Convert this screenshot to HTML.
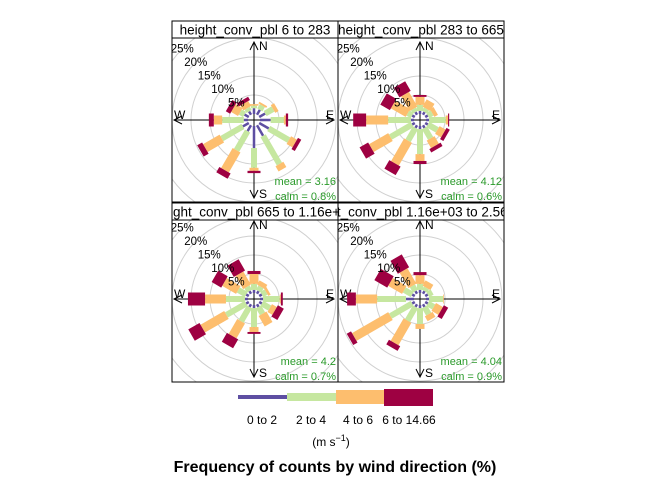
<!DOCTYPE html>
<html><head><meta charset="utf-8"><style>
body{margin:0;background:#fff}
svg{display:block;font-family:"Liberation Sans",sans-serif}
</style></head><body>
<svg id="chart" width="672" height="480" viewBox="0 0 672 480" xmlns="http://www.w3.org/2000/svg">
<defs>
<clipPath id="cp0"><rect x="172" y="38" width="166" height="164"/></clipPath>
<clipPath id="cp1"><rect x="338" y="38" width="166" height="164"/></clipPath>
<clipPath id="cp2"><rect x="172" y="220" width="166" height="162"/></clipPath>
<clipPath id="cp3"><rect x="338" y="220" width="166" height="162"/></clipPath>
<clipPath id="sp0"><rect x="172" y="21" width="166" height="17"/></clipPath>
<clipPath id="sp1"><rect x="338" y="21" width="166" height="17"/></clipPath>
<clipPath id="sp2"><rect x="172" y="203" width="166" height="17"/></clipPath>
<clipPath id="sp3"><rect x="338" y="203" width="166" height="17"/></clipPath>
</defs>
<g id="panels"></g>
<g id="legend">
<rect x="238" y="395" width="49" height="4" fill="#5E4FA2"/>
<rect x="287" y="393" width="49" height="8" fill="#C6E7A0"/>
<rect x="336" y="390" width="48" height="14" fill="#FDBE6E"/>
<rect x="384" y="389" width="49" height="17" fill="#9E0142"/>
<text x="262" y="424" font-size="12" text-anchor="middle">0 to 2</text>
<text x="311" y="424" font-size="12" text-anchor="middle">2 to 4</text>
<text x="358" y="424" font-size="12" text-anchor="middle">4 to 6</text>
<text x="409" y="424" font-size="12" text-anchor="middle">6 to 14.66</text>
<text x="331" y="446" font-size="12" text-anchor="middle">(m s<tspan dy="-5" font-size="9">−1</tspan><tspan dy="5">)</tspan></text>
</g>
<text x="335" y="472" font-size="16" font-weight="bold" text-anchor="middle">Frequency of counts by wind direction (%)</text>
</svg>
<script>
const directions = [0,30,60,90,120,150,180,210,240,270,300,330];
const panelTitles = ["height_conv_pbl 6 to 283","height_conv_pbl 283 to 665","height_conv_pbl 665 to 1.16e+03","height_conv_pbl 1.16e+03 to 2.56e+03"];
const panelMeans = ["3.16","4.12","4.2","4.04"];
const panelCalms = ["0.8%","0.6%","0.7%","0.9%"];
const ringTicks = [5,10,15,20,25];
const binLabels = ["0 to 2","2 to 4","4 to 6","6 to 14.66"];
// cumulative % per direction: [bin1, bin1+2, bin1+2+3, total]
const panel1 = [[1.5,2.2,2.6,2.6],[1.5,2.8,3.3,3.3],[1.8,4.2,5.2,5.2],[2.8,6.3,6.8,7.4],[2.9,9,10.8,11.8],[3.2,11.8,13.4,13.4],[5.8,11,11.8,12.4],[1.8,7.6,13.7,15.3],[1.8,8.2,13.2,14.7],[1.1,6.8,9,10.3],[1.3,2.6,4.7,6],[1,2,3.5,4.5]];
const panel2 = [[0.8,2.4,4.5,5],[0.8,1.8,4,4],[0.8,2.1,3.2,3.2],[0.8,5.2,5.8,6.1],[0.8,3.7,5.5,6.5],[0.8,4,6.3,7.3],[0.8,7.4,9.2,10],[0.8,4.7,11.6,14.2],[0.8,7.4,13.2,15.8],[0.8,6.8,12.6,16],[0.8,2.1,6.6,9.5],[0.8,1.8,6.3,9.2]];
const panel3 = [[0.8,2.4,5,5.8],[0.8,2.1,3.4,3.4],[0.8,2.1,2.8,2.8],[0.8,5.2,5.5,6],[0.8,3.2,4.7,6.5],[0.8,2.9,6.1,6.1],[0.8,5.8,7.1,7.6],[0.8,5.2,9.7,12.4],[0.8,6.8,14,17.4],[0.8,5.8,11.3,15.8],[0.8,3.2,7.4,10.3],[0.8,2.1,6.1,9.5]];
const panel4 = [[0.8,2.4,4.7,5.5],[0.8,1.8,3.4,3.4],[0.8,2.1,2.1,2.1],[0.8,4.5,4.7,4.7],[0.8,2.6,4.7,6],[0.8,3,4.5,4.5],[0.8,5,6.3,6.3],[0.8,5,11.8,13.2],[0.8,7.4,18.4,19.7],[2.1,9.7,15.3,17.6],[0.8,3.2,7.4,11.3],[0.8,2.4,7.1,11]];
const panelData = [panel1,panel2,panel3,panel4];

const NS="http://www.w3.org/2000/svg";
const colors=["#5E4FA2","#C6E7A0","#FDBE6E","#9E0142"];
const widths=[2.5,6,9,13];
const boxes=[{x:172,y:38,h:164,sy:21},{x:338,y:38,h:164,sy:21},{x:172,y:220,h:162,sy:203},{x:338,y:220,h:162,sy:203}];
function rScale(p){return 6+3.8*p;}
function mk(tag,attrs,parent){const e=document.createElementNS(NS,tag);for(const k in attrs)e.setAttribute(k,attrs[k]);parent.appendChild(e);return e;}
const root=document.getElementById('panels');
boxes.forEach((b,i)=>{
  const cx=b.x+82, cy=b.y+(i<2?82:79);
  const g=mk('g',{},root);
  
  
  const strip=mk('rect',{x:b.x,y:b.sy,width:166,height:b.y-b.sy,fill:'#fff',stroke:'#000','stroke-width':1},g);
  
  
  const st=mk('text',{x:b.x+83,y:b.sy+13.5,'font-size':13.5,'text-anchor':'middle','clip-path':'url(#sp'+i+')'},g);
  st.textContent=panelTitles[i];
  
  
  const inner=mk('g',{'clip-path':'url(#cp'+i+')'},g);
  ringTicks.forEach(t=>{
    const c=mk('circle',{cx:cx,cy:cy,r:rScale(t),fill:'none',stroke:'#d0d0d0','stroke-width':1},inner);
    
    
  });
  const ax=mk('g',{stroke:'#000','stroke-width':1,fill:'none'},inner);
  
  
  mk('line',{x1:cx,y1:cy-78,x2:cx,y2:cy+78},ax);
  mk('line',{x1:cx-80,y1:cy,x2:cx+80,y2:cy},ax);
  mk('path',{d:`M${cx-4},${cy-70}L${cx},${cy-78}L${cx+4},${cy-70}M${cx-4},${cy+70}L${cx},${cy+78}L${cx+4},${cy+70}M${cx-72},${cy-4}L${cx-80},${cy}L${cx-72},${cy+4}M${cx+72},${cy-4}L${cx+80},${cy}L${cx+72},${cy+4}`},ax);
  [['N',cx+5,cy-70,'start'],['S',cx+5,cy+78,'start'],['W',cx-80,cy-1,'start'],['E',cx+80,cy-1,'end']].forEach(d=>{
    const t=mk('text',{x:d[1],y:d[2],'font-size':12,'text-anchor':d[3]},inner);
    t.textContent=d[0];
    
    
  });
  panelData[i].forEach((cum,di)=>{
    const ang=directions[di];
    let prev=0;
    for(let k=0;k<4;k++){
      const v=cum[k];
      if(v>prev){
        const r0=rScale(prev), r1=rScale(v), w=widths[k];
        const rc=mk('rect',{x:cx-w/2,y:cy-r1,width:w,height:r1-r0,fill:colors[k],transform:`rotate(${ang} ${cx} ${cy})`},inner);
        
        
      }
      prev=Math.max(prev,v);
    }
  });
  ringTicks.forEach(t=>{
    const d=rScale(t)*0.71;
    const tx=mk('text',{x:cx-d,y:cy-d+4,'font-size':11.5,'text-anchor':'middle'},inner);
    tx.textContent=t+'%';
    
    
  });
  const m=mk('text',{x:b.x+164,y:b.y+b.h-17,'font-size':11,fill:'#2a9a2a','text-anchor':'end'},inner);
  m.textContent='mean = '+panelMeans[i];
  
  
  const c=mk('text',{x:b.x+164,y:b.y+b.h-2,'font-size':11,fill:'#2a9a2a','text-anchor':'end'},inner);
  c.textContent='calm = '+panelCalms[i];
  
  
  const fr=mk('rect',{x:b.x,y:b.y,width:166,height:b.h,fill:'none',stroke:'#000','stroke-width':1},g);
  
  
});
</script>
</body></html>
